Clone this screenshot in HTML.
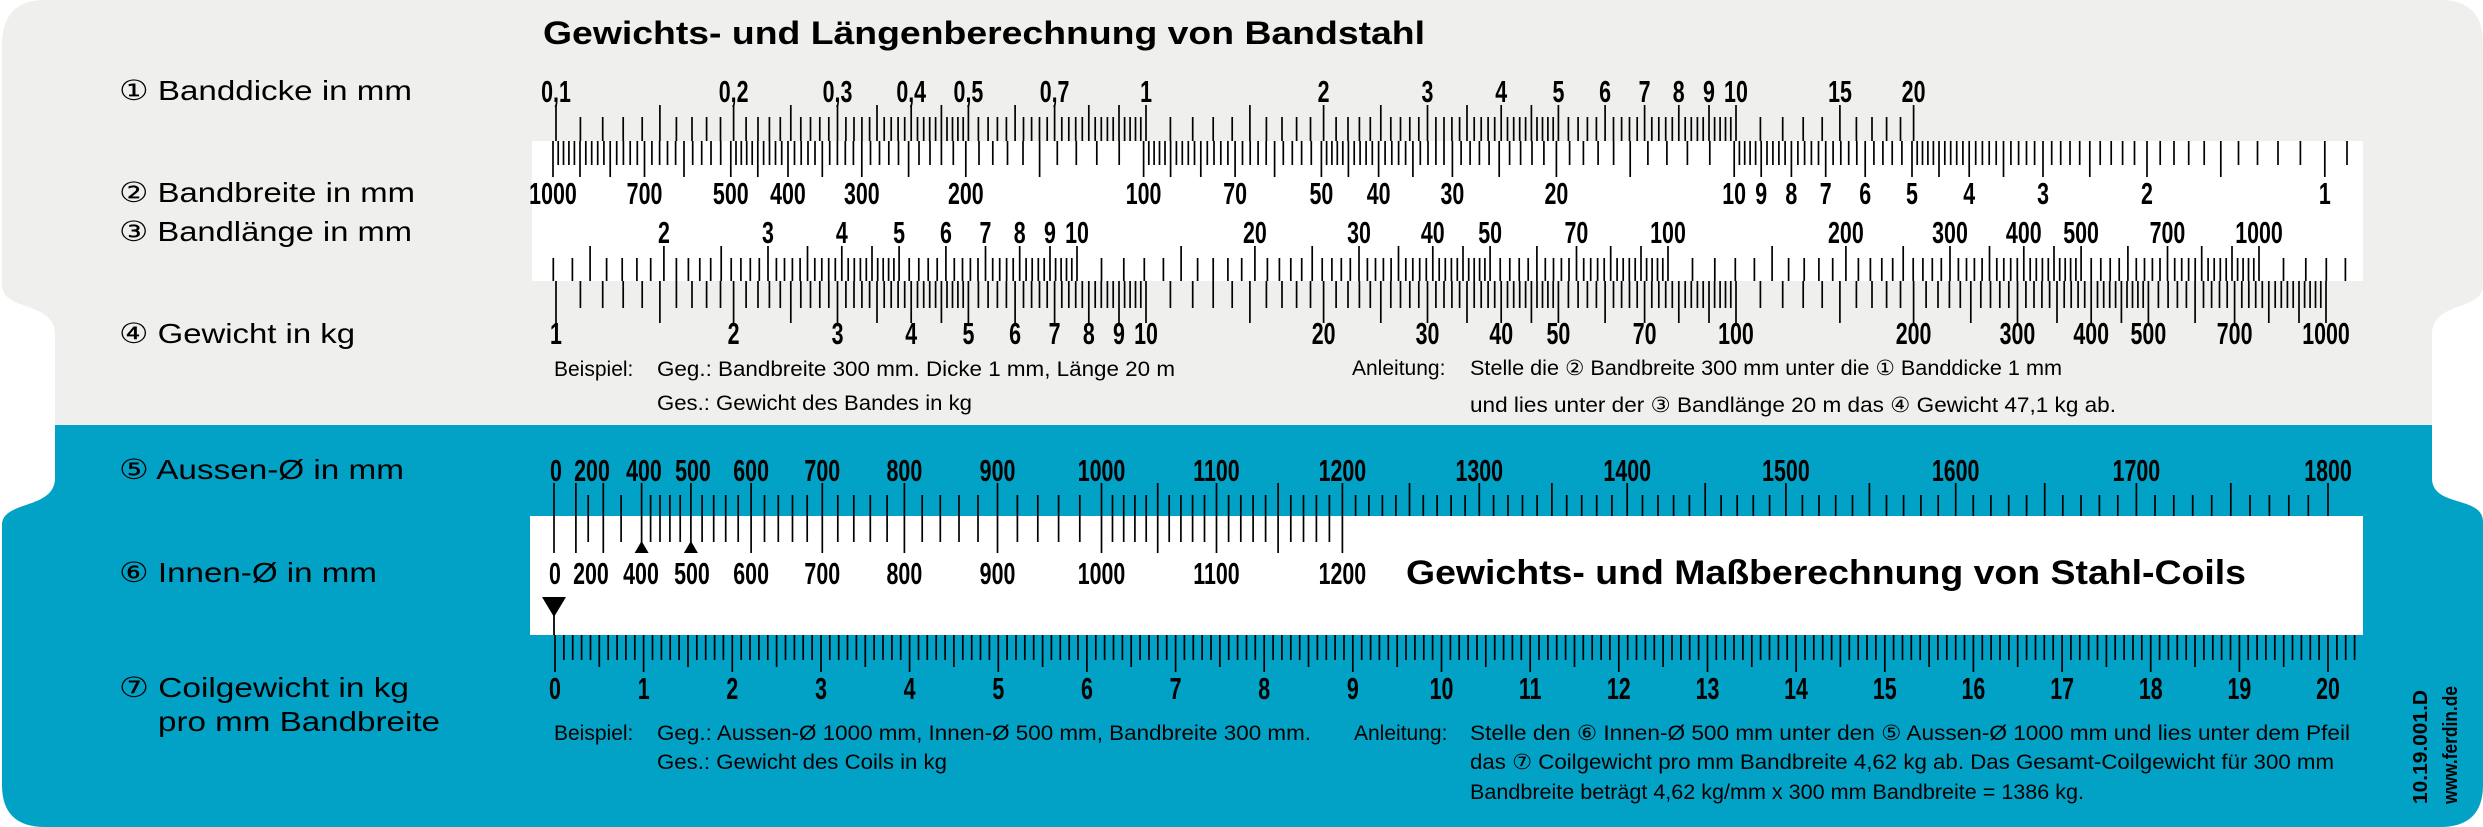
<!DOCTYPE html>
<html><head><meta charset="utf-8">
<style>
body{margin:0;background:#fff}
svg{display:block}
.n{font-family:"Liberation Sans",Arial,sans-serif;font-weight:bold;font-size:31px;text-anchor:middle}
.r{font-family:"Liberation Sans","DejaVu Sans",sans-serif;font-size:28px}
.i{font-family:"Liberation Sans","DejaVu Sans",sans-serif;font-size:21px}
</style></head><body>
<svg xmlns="http://www.w3.org/2000/svg" width="2483" height="827" viewBox="0 0 2483 827">
<defs><clipPath id="c"><path d="M45,0 H2440 Q2483,0 2483,43 V285 C2483,312 2432,300 2432,335 V478 C2432,508 2483,495 2483,522 V785 Q2483,827 2440,827 H45 Q2,827 2,785 V525 C2,500 55,510 55,478 V335 C55,300 2,312 2,285 V45 Q2,0 45,0 Z"/></clipPath></defs>
<g clip-path="url(#c)"><rect width="2483" height="425" fill="#efefed"/><rect y="425" width="2483" height="402" fill="#02a1c6"/></g>
<rect x="532" y="141" width="1831" height="140" fill="#fff"/>
<rect x="530" y="516" width="1833" height="119" fill="#fff"/>
<g id="g" stroke="#000" stroke-width="1.7"></g>
<polygon points="641.6,541 634.6,553 648.6,553" fill="#000"/>
<polygon points="690.9,541 683.9,553 697.9,553" fill="#000"/>
<polygon points="542,597 566,597 554,617" fill="#000"/>
<line x1="554" x2="554" y1="612" y2="635" stroke="#000" stroke-width="1.8"/>

<text x="543" y="44" font-family="Liberation Sans,Arial,sans-serif" font-weight="bold" font-size="32" textLength="882" lengthAdjust="spacingAndGlyphs">Gewichts- und Längenberechnung von Bandstahl</text>
<text x="1406" y="584" font-family="Liberation Sans,Arial,sans-serif" font-weight="bold" font-size="34" textLength="840" lengthAdjust="spacingAndGlyphs">Gewichts- und Maßberechnung von Stahl-Coils</text>

<text class="r" x="119" y="100" textLength="293" lengthAdjust="spacingAndGlyphs">① Banddicke in mm</text>
<text class="r" x="119" y="202" textLength="296" lengthAdjust="spacingAndGlyphs">② Bandbreite in mm</text>
<text class="r" x="119" y="241" textLength="293" lengthAdjust="spacingAndGlyphs">③ Bandlänge in mm</text>
<text class="r" x="119" y="343" textLength="236" lengthAdjust="spacingAndGlyphs">④ Gewicht in kg</text>
<text class="r" x="119" y="479" textLength="285" lengthAdjust="spacingAndGlyphs">⑤ Aussen-Ø in mm</text>
<text class="r" x="119" y="582" textLength="258" lengthAdjust="spacingAndGlyphs">⑥ Innen-Ø in mm</text>
<text class="r" x="119" y="697" textLength="290" lengthAdjust="spacingAndGlyphs">⑦ Coilgewicht in kg</text>
<text class="r" x="158" y="731" textLength="282" lengthAdjust="spacingAndGlyphs">pro mm Bandbreite</text>

<text class="i" x="554" y="376">Beispiel:</text>
<text class="i" x="657" y="376" textLength="518" lengthAdjust="spacingAndGlyphs">Geg.: Bandbreite 300 mm. Dicke 1 mm, Länge 20 m</text>
<text class="i" x="657" y="410" textLength="315" lengthAdjust="spacingAndGlyphs">Ges.: Gewicht des Bandes in kg</text>
<text class="i" x="1352" y="375">Anleitung:</text>
<text class="i" x="1470" y="375" textLength="592" lengthAdjust="spacingAndGlyphs">Stelle die ② Bandbreite 300 mm unter die ① Banddicke 1 mm</text>
<text class="i" x="1470" y="412" textLength="646" lengthAdjust="spacingAndGlyphs">und lies unter der ③ Bandlänge 20 m das ④ Gewicht 47,1 kg ab.</text>

<text class="i" x="554" y="740">Beispiel:</text>
<text class="i" x="657" y="740" textLength="654" lengthAdjust="spacingAndGlyphs">Geg.: Aussen-Ø 1000 mm, Innen-Ø 500 mm, Bandbreite 300 mm.</text>
<text class="i" x="657" y="769" textLength="290" lengthAdjust="spacingAndGlyphs">Ges.: Gewicht des Coils in kg</text>
<text class="i" x="1354" y="740">Anleitung:</text>
<text class="i" x="1470" y="740" textLength="880" lengthAdjust="spacingAndGlyphs">Stelle den ⑥ Innen-Ø 500 mm unter den ⑤ Aussen-Ø 1000 mm und lies unter dem Pfeil</text>
<text class="i" x="1470" y="769" textLength="864" lengthAdjust="spacingAndGlyphs">das ⑦ Coilgewicht pro mm Bandbreite 4,62 kg ab. Das Gesamt-Coilgewicht für 300 mm</text>
<text class="i" x="1470" y="799" textLength="614" lengthAdjust="spacingAndGlyphs">Bandbreite beträgt 4,62 kg/mm x 300 mm Bandbreite = 1386 kg.</text>

<text transform="translate(2427,804) rotate(-90)" font-family="Liberation Sans,Arial,sans-serif" font-weight="bold" font-size="20" textLength="114" lengthAdjust="spacingAndGlyphs">10.19.001.D</text>
<text transform="translate(2457,804) rotate(-90)" font-family="Liberation Sans,Arial,sans-serif" font-weight="bold" font-size="20" textLength="118" lengthAdjust="spacingAndGlyphs">www.ferdin.de</text>

<g id="labels">
<text class="n" x="556" y="102">0,1</text><text class="n" x="733.6" y="102">0,2</text><text class="n" x="837.5" y="102">0,3</text><text class="n" x="911.2" y="102">0,4</text><text class="n" x="968.4" y="102">0,5</text><text class="n" x="1054.6" y="102">0,7</text><text class="n" x="1146" y="102">1</text><text class="n" x="1323.6" y="102">2</text><text class="n" x="1427.5" y="102">3</text><text class="n" x="1501.2" y="102">4</text><text class="n" x="1558.4" y="102">5</text><text class="n" x="1605.1" y="102">6</text><text class="n" x="1644.6" y="102">7</text><text class="n" x="1678.8" y="102">8</text><text class="n" x="1709" y="102">9</text><text class="n" x="1736" y="102">10</text><text class="n" x="1840" y="102">15</text><text class="n" x="1913.6" y="102">20</text>
<text class="n" x="553" y="204">1000</text><text class="n" x="644.5" y="204">700</text><text class="n" x="730.8" y="204">500</text><text class="n" x="788" y="204">400</text><text class="n" x="861.8" y="204">300</text><text class="n" x="965.8" y="204">200</text><text class="n" x="1143.6" y="204">100</text><text class="n" x="1235.1" y="204">70</text><text class="n" x="1321.4" y="204">50</text><text class="n" x="1378.6" y="204">40</text><text class="n" x="1452.4" y="204">30</text><text class="n" x="1556.4" y="204">20</text><text class="n" x="1734.2" y="204">10</text><text class="n" x="1761.2" y="204">9</text><text class="n" x="1791.4" y="204">8</text><text class="n" x="1825.7" y="204">7</text><text class="n" x="1865.2" y="204">6</text><text class="n" x="1912" y="204">5</text><text class="n" x="1969.2" y="204">4</text><text class="n" x="2043" y="204">3</text><text class="n" x="2147" y="204">2</text><text class="n" x="2324.8" y="204">1</text>
<text class="n" x="663.9" y="243">2</text><text class="n" x="768" y="243">3</text><text class="n" x="841.8" y="243">4</text><text class="n" x="899.1" y="243">5</text><text class="n" x="945.9" y="243">6</text><text class="n" x="985.4" y="243">7</text><text class="n" x="1019.7" y="243">8</text><text class="n" x="1050" y="243">9</text><text class="n" x="1077" y="243">10</text><text class="n" x="1254.9" y="243">20</text><text class="n" x="1359" y="243">30</text><text class="n" x="1432.8" y="243">40</text><text class="n" x="1490.1" y="243">50</text><text class="n" x="1576.4" y="243">70</text><text class="n" x="1668" y="243">100</text><text class="n" x="1845.9" y="243">200</text><text class="n" x="1950" y="243">300</text><text class="n" x="2023.8" y="243">400</text><text class="n" x="2081.1" y="243">500</text><text class="n" x="2167.4" y="243">700</text><text class="n" x="2259" y="243">1000</text>
<text class="n" x="556" y="344">1</text><text class="n" x="733.6" y="344">2</text><text class="n" x="837.5" y="344">3</text><text class="n" x="911.2" y="344">4</text><text class="n" x="968.4" y="344">5</text><text class="n" x="1015.1" y="344">6</text><text class="n" x="1054.6" y="344">7</text><text class="n" x="1088.8" y="344">8</text><text class="n" x="1119" y="344">9</text><text class="n" x="1146" y="344">10</text><text class="n" x="1323.6" y="344">20</text><text class="n" x="1427.5" y="344">30</text><text class="n" x="1501.2" y="344">40</text><text class="n" x="1558.4" y="344">50</text><text class="n" x="1644.6" y="344">70</text><text class="n" x="1736" y="344">100</text><text class="n" x="1913.6" y="344">200</text><text class="n" x="2017.5" y="344">300</text><text class="n" x="2091.2" y="344">400</text><text class="n" x="2148.4" y="344">500</text><text class="n" x="2234.6" y="344">700</text><text class="n" x="2326" y="344">1000</text>
<text class="n" x="556" y="481">0</text><text class="n" x="592" y="481">200</text><text class="n" x="644" y="481">400</text><text class="n" x="693" y="481">500</text><text class="n" x="751.1" y="481">600</text><text class="n" x="822.3" y="481">700</text><text class="n" x="904.4" y="481">800</text><text class="n" x="997.5" y="481">900</text><text class="n" x="1101.5" y="481">1000</text><text class="n" x="1216.5" y="481">1100</text><text class="n" x="1342.4" y="481">1200</text><text class="n" x="1479.3" y="481">1300</text><text class="n" x="1627.2" y="481">1400</text><text class="n" x="1785.9" y="481">1500</text><text class="n" x="1955.7" y="481">1600</text><text class="n" x="2136.4" y="481">1700</text><text class="n" x="2328" y="481">1800</text>
<text class="n" x="555" y="584">0</text><text class="n" x="591" y="584">200</text><text class="n" x="641" y="584">400</text><text class="n" x="692" y="584">500</text><text class="n" x="751.1" y="584">600</text><text class="n" x="822.3" y="584">700</text><text class="n" x="904.4" y="584">800</text><text class="n" x="997.5" y="584">900</text><text class="n" x="1101.5" y="584">1000</text><text class="n" x="1216.5" y="584">1100</text><text class="n" x="1342.4" y="584">1200</text>
<text class="n" x="555" y="699">0</text><text class="n" x="643.7" y="699">1</text><text class="n" x="732.3" y="699">2</text><text class="n" x="821" y="699">3</text><text class="n" x="909.6" y="699">4</text><text class="n" x="998.3" y="699">5</text><text class="n" x="1086.9" y="699">6</text><text class="n" x="1175.6" y="699">7</text><text class="n" x="1264.2" y="699">8</text><text class="n" x="1352.9" y="699">9</text><text class="n" x="1441.5" y="699">10</text><text class="n" x="1530.2" y="699">11</text><text class="n" x="1618.8" y="699">12</text><text class="n" x="1707.5" y="699">13</text><text class="n" x="1796.1" y="699">14</text><text class="n" x="1884.8" y="699">15</text><text class="n" x="1973.4" y="699">16</text><text class="n" x="2062.1" y="699">17</text><text class="n" x="2150.7" y="699">18</text><text class="n" x="2239.4" y="699">19</text><text class="n" x="2328" y="699">20</text>
</g>
</svg>
<script>
(function(){
var h='';
function L(x,a,b){h+='<line x1="'+x.toFixed(1)+'" x2="'+x.toFixed(1)+'" y1="'+a+'" y2="'+b+'"/>';}
function logT(f,vmin,vmax,y0,yl,ys,xmin,xmax){
 for(var e=-2;e<4;e++){var p=Math.pow(10,e);
  for(var i=10;i<100;i+=(i<50?1:2)){var v=i*p/10;
   if(v<vmin*(1-1e-9)||v>vmax*(1+1e-9))continue;
   var x=f(v); if(xmin!==undefined&&(x<xmin||x>xmax))continue;
   var lg=(i<50?i%5==0:i%10==0); L(x,y0,lg?yl:ys);}}
}
var lg10=function(v){return Math.log(v)/Math.LN10;};
logT(function(v){return 556+590*(lg10(v)+1);},0.1,20,141,105,117);
logT(function(v){return 553+590.6*lg10(1000/v);},1,1000,141,177,165,533,2362);
L(2347,141,165);
logT(function(v){return 486+591*lg10(v);},1.1,1400,281,246,258,534,2362);
logT(function(v){return 556+590*lg10(v);},1,1000,281,323,308);
var d=[0,200,250,300,350,400,420,440,460,480,500],k;
for(k=520;k<1000;k+=20)d.push(k);
for(k=1000;k<=1800;k+=10)d.push(k);
function dx(v){return 554+1774*(v/1800)*(v/1800);}
d.forEach(function(v){var lo=(v==0||v%100==0||(v>=1000&&v%50==0));
 L(dx(v),516,lo?483:495);
 if(v<=1200)L(dx(v),516,lo?553:542);});
for(k=0;k<=203;k++){L(555+8.865*k,635,k%10==0?672:(k%5==0?667:660));}
document.getElementById('g').innerHTML=h;
var t=document.querySelectorAll('text.n');
for(var j=0;j<t.length;j++){var x=parseFloat(t[j].getAttribute('x'));t[j].setAttribute('x',(x/0.69).toFixed(1));t[j].setAttribute('transform','scale(0.69,1)');}
})();
</script>
</body></html>
